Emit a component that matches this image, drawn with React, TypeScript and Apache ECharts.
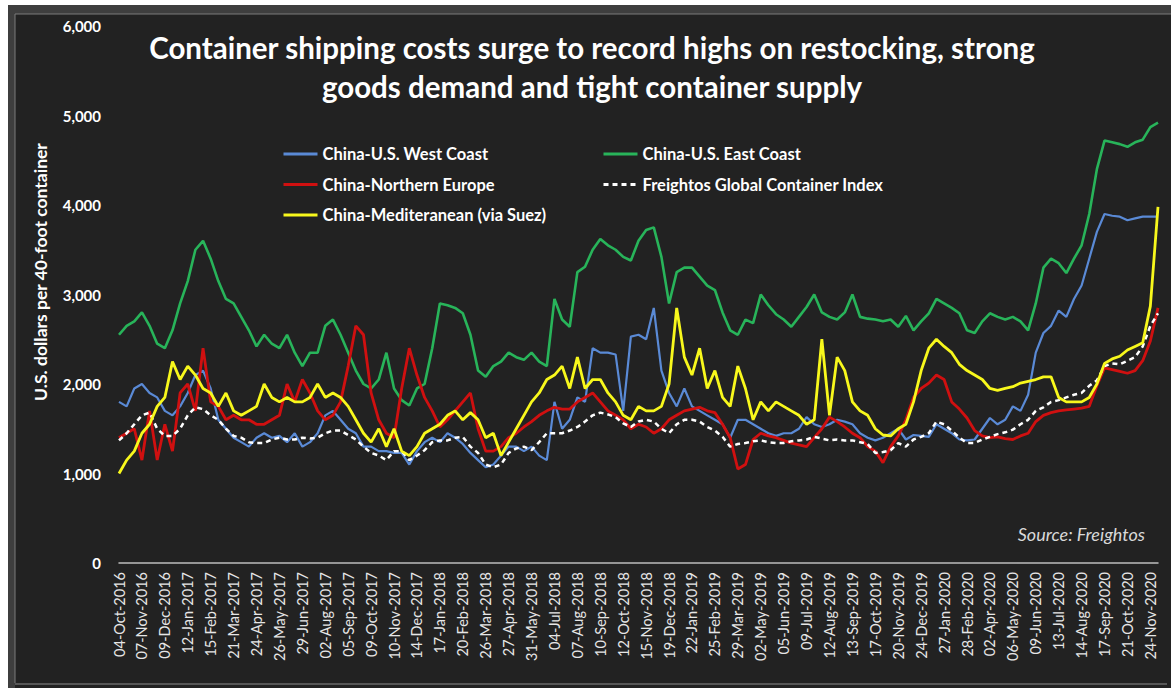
import React, { useEffect, useRef } from "react";
import * as echarts from "echarts";

const tickLabels = [
  "04-Oct-2016", "07-Nov-2016", "09-Dec-2016", "12-Jan-2017", "15-Feb-2017", "21-Mar-2017",
  "24-Apr-2017", "26-May-2017", "29-Jun-2017", "02-Aug-2017", "05-Sep-2017", "09-Oct-2017",
  "10-Nov-2017", "14-Dec-2017", "17-Jan-2018", "20-Feb-2018", "26-Mar-2018", "27-Apr-2018",
  "31-May-2018", "04-Jul-2018", "07-Aug-2018", "10-Sep-2018", "12-Oct-2018", "15-Nov-2018",
  "19-Dec-2018", "22-Jan-2019", "25-Feb-2019", "29-Mar-2019", "02-May-2019", "05-Jun-2019",
  "09-Jul-2019", "12-Aug-2019", "13-Sep-2019", "17-Oct-2019", "20-Nov-2019", "24-Dec-2019",
  "27-Jan-2020", "28-Feb-2020", "02-Apr-2020", "06-May-2020", "09-Jun-2020", "13-Jul-2020",
  "14-Aug-2020", "17-Sep-2020", "21-Oct-2020", "24-Nov-2020",
];

const westCoast = [
  1800, 1750, 1950, 2000, 1900, 1850, 1700, 1650, 1750, 1900, 2100, 2150, 1950, 1600, 1500, 1400,
  1350, 1300, 1400, 1450, 1400, 1420, 1350, 1450, 1300, 1350, 1450, 1650, 1700, 1600, 1500, 1450,
  1300, 1300, 1250, 1250, 1230, 1230, 1100, 1250, 1350, 1400, 1350, 1450, 1400, 1330, 1230, 1150,
  1070, 1100, 1200, 1300, 1300, 1250, 1300, 1200, 1150, 1800, 1500, 1600, 1850, 1800, 2400, 2350,
  2350, 2330, 1700, 2530, 2550, 2500, 2850, 2150, 1900, 1750, 1950, 1750, 1700, 1650, 1600, 1550,
  1400, 1600, 1600, 1550, 1500, 1450, 1420, 1450, 1450, 1500, 1630, 1550, 1520, 1550, 1600, 1580,
  1550, 1450, 1400, 1370, 1400, 1450, 1500, 1380, 1430, 1420, 1410, 1550, 1500, 1450, 1380, 1370,
  1380, 1500, 1620, 1550, 1600, 1750, 1700, 1880, 2350, 2570, 2650, 2820, 2750, 2950, 3100, 3400,
  3700, 3900, 3880, 3870, 3830, 3850, 3870, 3870, 3870,
];

const eastCoast = [
  2550, 2650, 2700, 2800, 2650, 2450, 2400, 2600, 2900, 3150, 3500, 3600, 3400, 3150, 2950, 2900,
  2750, 2600, 2420, 2550, 2450, 2400, 2550, 2350, 2200, 2350, 2350, 2650, 2720, 2550, 2350, 2150,
  2000, 1950, 2050, 2350, 1950, 1820, 1760, 1950, 2000, 2400, 2900, 2880, 2850, 2790, 2550, 2150,
  2080, 2200, 2250, 2350, 2300, 2270, 2350, 2250, 2200, 2950, 2720, 2640, 3250, 3310, 3500, 3620,
  3550, 3500, 3420, 3380, 3600, 3720, 3750, 3420, 2900, 3250, 3300, 3300, 3200, 3100, 3050, 2800,
  2600, 2550, 2720, 2680, 3000, 2880, 2780, 2720, 2640, 2750, 2860, 3000, 2800, 2750, 2720, 2800,
  3000, 2750, 2730, 2720, 2700, 2720, 2640, 2760, 2600, 2700, 2790, 2950, 2900, 2850, 2790, 2600,
  2570, 2700, 2790, 2750, 2720, 2750, 2700, 2600, 2900, 3300, 3400, 3350, 3240, 3400, 3550, 3900,
  4400, 4720, 4700, 4680, 4650, 4700, 4730, 4870, 4920,
];

const northernEurope = [
  1400, 1450, 1500, 1150, 1700, 1150, 1550, 1250, 1900, 2000, 1700, 2400, 1800, 1750, 1600, 1650,
  1600, 1600, 1550, 1550, 1600, 1650, 2000, 1800, 2050, 1900, 1700, 1600, 1650, 1800, 2200, 2650,
  2550, 1900, 1600, 1450, 1400, 1950, 2400, 2100, 1850, 1700, 1520, 1600, 1700, 1800, 1900, 1500,
  1250, 1250, 1300, 1400, 1450, 1520, 1580, 1650, 1700, 1740, 1720, 1720, 1800, 1850, 1900, 1800,
  1700, 1650, 1600, 1500, 1550, 1520, 1450, 1500, 1600, 1650, 1700, 1720, 1740, 1700, 1680, 1550,
  1400, 1050, 1100, 1380, 1450, 1420, 1400, 1370, 1340, 1320, 1300, 1400, 1500, 1630, 1580, 1520,
  1450, 1400, 1300, 1250, 1120, 1300, 1420, 1600, 1850, 1950, 2010, 2100, 2050, 1800, 1720, 1620,
  1480, 1420, 1400, 1410, 1390, 1380, 1420, 1450, 1580, 1650, 1680, 1700, 1710, 1720, 1730, 1750,
  1980, 2180, 2160, 2140, 2120, 2150, 2260, 2480, 2850,
];

const globalIndex = [
  1370, 1450, 1550, 1650, 1680, 1500, 1420, 1420, 1500, 1650, 1740, 1720, 1650, 1600, 1500, 1420,
  1400, 1350, 1340, 1340, 1380, 1400, 1380, 1380, 1400, 1390, 1400, 1450, 1480, 1480, 1430, 1380,
  1300, 1230, 1200, 1150, 1250, 1250, 1150, 1200, 1260, 1350, 1370, 1370, 1400, 1410, 1300, 1230,
  1100, 1070, 1100, 1230, 1280, 1300, 1260, 1350, 1450, 1450, 1450, 1480, 1520, 1580, 1650, 1680,
  1660, 1630, 1560, 1520, 1580, 1600, 1580, 1500, 1450, 1550, 1600, 1600, 1580, 1520, 1480, 1410,
  1300, 1330, 1340, 1360, 1370, 1350, 1340, 1340, 1360, 1370, 1380, 1410, 1390, 1370, 1380, 1370,
  1370, 1350, 1330, 1230, 1240, 1260, 1340, 1300, 1380, 1410, 1450, 1580, 1550, 1480, 1400, 1340,
  1340, 1380, 1410, 1440, 1460, 1490, 1550, 1600, 1700, 1740, 1800, 1820, 1850, 1880, 1900, 1980,
  2040, 2200, 2230, 2220, 2260, 2300, 2420, 2650, 2790,
];

const mediterranean = [
  1000, 1150, 1250, 1450, 1550, 1750, 1850, 2250, 2050, 2200, 2100, 1950, 1900, 1750, 1900, 1700,
  1650, 1700, 1750, 2000, 1850, 1800, 1850, 1800, 1800, 1850, 2000, 1850, 1900, 1850, 1750, 1600,
  1450, 1350, 1500, 1300, 1500, 1250, 1200, 1300, 1450, 1500, 1550, 1650, 1700, 1600, 1680, 1600,
  1400, 1450, 1200, 1350, 1500, 1650, 1800, 1900, 2050, 2100, 2200, 1950, 2300, 1950, 2050, 2050,
  1900, 1800, 1650, 1600, 1750, 1700, 1700, 1750, 2000, 2850, 2300, 2100, 2400, 1950, 2150, 1850,
  1750, 2200, 1950, 1600, 1800, 1700, 1800, 1750, 1700, 1650, 1550, 1600, 2500, 1650, 2300, 2150,
  1800, 1700, 1650, 1500, 1430, 1420, 1500, 1550, 1800, 2150, 2400, 2500, 2420, 2350, 2220, 2150,
  2100, 2050, 1950, 1930, 1950, 1970, 2010, 2030, 2050, 2080, 2080, 1850, 1800, 1800, 1800, 1850,
  2000, 2230, 2280, 2310, 2380, 2420, 2460, 2870, 3980,
];

const seriesNames = [
  "China-U.S. West Coast",
  "China-U.S. East Coast",
  "China-Northern Europe",
  "Freightos Global Container Index",
  "China-Mediteranean (via Suez)",
];

const MONTHS = ["Jan", "Feb", "Mar", "Apr", "May", "Jun", "Jul", "Aug", "Sep", "Oct", "Nov", "Dec"];

function parseLabel(s: string): Date {
  const [d, m, y] = s.split("-");
  return new Date(Date.UTC(+y, MONTHS.indexOf(m), +d));
}
function fmt(d: Date): string {
  const dd = String(d.getUTCDate()).padStart(2, "0");
  return `${dd}-${MONTHS[d.getUTCMonth()]}-${d.getUTCFullYear()}`;
}
function addBusinessDays(d: Date, n: number): Date {
  const r = new Date(d.getTime());
  let k = 0;
  while (k < n) {
    r.setUTCDate(r.getUTCDate() + 1);
    const wd = r.getUTCDay();
    if (wd !== 0 && wd !== 6) k++;
  }
  return r;
}

function buildCategories(): string[] {
  const cats: string[] = [];
  tickLabels.forEach((lab, k) => {
    cats.push(lab);
    const base = parseLabel(lab);
    const extra = k < tickLabels.length - 1 ? 2 : westCoast.length - 1 - 3 * k;
    for (let j = 1; j <= extra; j++) cats.push(fmt(addBusinessDays(base, 8 * j)));
  });
  return cats;
}

const FONT = "Lato, 'Open Sans', sans-serif";

export default function App() {
  const ref = useRef<HTMLDivElement>(null);
  useEffect(() => {
    if (!ref.current) return;
    const chart = echarts.init(ref.current, undefined, { renderer: "svg" });
    const categories = buildCategories();
    const mk = (name: string, data: number[], color: string, width: number, dashed = false, z = 2) => ({
      name,
      type: "line",
      data,
      symbol: "none",
      showSymbol: false,
      z,
      lineStyle: { color, width, type: dashed ? [5, 4] : "solid" },
      itemStyle: { color },
    });
    const legendCommon = {
      orient: "vertical",
      top: 140,
      itemGap: 12.5,
      itemWidth: 34,
      itemHeight: 18,
      itemStyle: { opacity: 0 },
      lineStyle: { width: 3 },
      textStyle: {
        color: "#ffffff",
        fontSize: 16.5,
        lineHeight: 18,
        fontWeight: "bold",
        fontFamily: FONT,
      },
    };
    chart.setOption({
      animation: false,
      backgroundColor: "#222222",
      textStyle: { fontFamily: FONT },
      grid: { left: 119, right: 13, top: 26, bottom: 125, containLabel: false },
      xAxis: {
        type: "category",
        data: categories,
        boundaryGap: false,
        axisLine: { show: true, lineStyle: { color: "#bdbdbd", width: 1.5 } },
        axisTick: { show: false },
        splitLine: { show: false },
        axisLabel: {
          interval: 2,
          rotate: 90,
          color: "#e6e6e6",
          fontSize: 14.5,
          fontFamily: FONT,
          margin: 9,
        },
      },
      yAxis: {
        type: "value",
        min: 0,
        max: 6000,
        interval: 1000,
        axisLine: { show: false },
        axisTick: { show: false },
        splitLine: { show: false },
        axisLabel: {
          color: "#ffffff",
          fontSize: 15,
          fontWeight: "bold",
          fontFamily: FONT,
          margin: 18,
          formatter: (v: number) => v.toLocaleString("en-US"),
        },
      },
      legend: [
        { ...legendCommon, data: [seriesNames[0], seriesNames[2], seriesNames[4]], left: 277 },
        { ...legendCommon, data: [seriesNames[1], seriesNames[3]], left: 597 },
      ],
      graphic: [
        { type: "rect", shape: { x: 0, y: 0, width: 1171, height: 5 }, style: { fill: "#ffffff" }, silent: true },
        { type: "rect", shape: { x: 0, y: 0, width: 8, height: 688 }, style: { fill: "#ffffff" }, silent: true },
        { type: "rect", shape: { x: 8, y: 5, width: 1163, height: 9 }, style: { fill: "#3e3e3e" }, silent: true },
        { type: "rect", shape: { x: 8, y: 5, width: 7, height: 683 }, style: { fill: "#3e3e3e" }, silent: true },
        { type: "line", shape: { x1: 15, y1: 14, x2: 1171, y2: 14 }, style: { stroke: "#7a7a7a", lineWidth: 1 }, silent: true },
        { type: "line", shape: { x1: 15, y1: 14, x2: 15, y2: 683 }, style: { stroke: "#7a7a7a", lineWidth: 1 }, silent: true },
        { type: "line", shape: { x1: 15, y1: 684, x2: 1167, y2: 684 }, style: { stroke: "#6a6a6a", lineWidth: 1.5 }, silent: true },
        {
          type: "text",
          x: 592,
          y: 47,
          style: {
            text: "Container shipping costs surge to record highs on restocking, strong",
            fill: "#ffffff",
            font: `bold 29.5px ${FONT}`,
            textAlign: "center",
            textVerticalAlign: "middle",
          },
        },
        {
          type: "text",
          x: 592,
          y: 86,
          style: {
            text: "goods demand and tight container supply",
            fill: "#ffffff",
            font: `bold 29.5px ${FONT}`,
            textAlign: "center",
            textVerticalAlign: "middle",
          },
        },
        {
          type: "text",
          x: 40,
          y: 272,
          rotation: Math.PI / 2,
          style: {
            text: "U.S. dollars per 40-foot container",
            fill: "#ffffff",
            font: `bold 17.5px ${FONT}`,
            textAlign: "center",
            textVerticalAlign: "middle",
          },
        },
        {
          type: "text",
          x: 1145,
          y: 534,
          style: {
            text: "Source: Freightos",
            fill: "#d9d9d9",
            font: `italic 18px ${FONT}`,
            textAlign: "right",
            textVerticalAlign: "middle",
          },
        },
      ],
      series: [
        mk(seriesNames[0], westCoast, "#5a8ad6", 2.2, false, 2),
        mk(seriesNames[1], eastCoast, "#28b45a", 2.6, false, 2),
        mk(seriesNames[2], northernEurope, "#d01010", 2.8, false, 3),
        mk(seriesNames[3], globalIndex, "#ffffff", 2.5, true, 4),
        mk(seriesNames[4], mediterranean, "#f8f81c", 2.8, false, 5),
      ],
    });
    return () => chart.dispose();
  }, []);
  return (
    <div
      ref={ref}
      style={{ position: "fixed", left: 0, top: 0, width: 1171, height: 688 }}
    />
  );
}
